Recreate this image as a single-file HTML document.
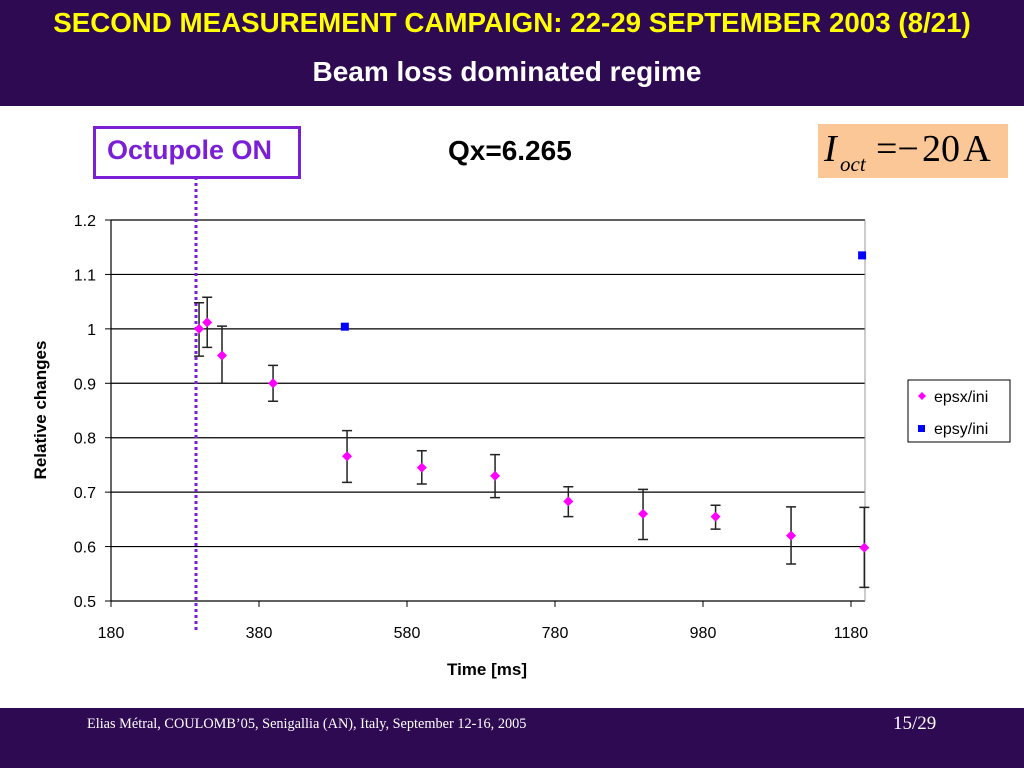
<!DOCTYPE html>
<html><head><meta charset="utf-8"><style>
body{margin:0;width:1024px;height:768px;background:#fff;position:relative;overflow:hidden;font-family:"Liberation Sans",sans-serif}
.abs{position:absolute}
</style></head><body>
<div class="abs" style="left:0;top:0;width:1024px;height:106px;background:#2e0a52"></div>
<div class="abs" style="left:0;top:7px;width:1024px;text-align:center;color:#ffff00;font-weight:bold;font-size:28px;transform:scaleX(0.99)">SECOND MEASUREMENT CAMPAIGN: 22-29 SEPTEMBER 2003 (8/21)</div>
<div class="abs" style="left:0;top:56px;width:1014px;text-align:center;color:#fff;font-weight:bold;font-size:28px">Beam loss dominated regime</div>
<div class="abs" style="left:93px;top:126px;width:202px;height:47px;border:3px solid #7a1fd6;color:#7a1fd6;font-weight:bold;font-size:27px;box-sizing:content-box"><div style="padding:6px 0 0 11px">Octupole ON</div></div>
<div class="abs" style="left:448px;top:135px;font-weight:bold;font-size:28px">Qx=6.265</div>
<div class="abs" style="left:818px;top:124px;width:190px;height:54px;background:#fcc796;font-family:'Liberation Serif',serif;font-size:38px;color:#000"><span style="position:absolute;left:6px;top:3px;font-style:italic">I</span><span style="position:absolute;left:22px;top:28px;font-style:italic;font-size:21px">oct</span><span style="position:absolute;left:58px;top:3px;white-space:nowrap">=&#8722;&#8202;20&#8202;A</span></div>
<svg class="abs" style="left:0;top:0" width="1024" height="768" id="chart"></svg>
<div class="abs" style="left:0;top:708px;width:1024px;height:60px;background:#2e0a52"></div>
<div class="abs" style="left:87px;top:716px;color:#fff;font-family:'Liberation Serif',serif;font-size:14.3px;white-space:nowrap">Elias Métral, COULOMB’05, Senigallia (AN), Italy, September 12-16, 2005</div>
<div class="abs" style="left:893px;top:713px;color:#fff;font-family:'Liberation Serif',serif;font-size:19px">15/29</div>
<script>
const xTicks=[180,380,580,780,980,1180];
const yTicks=[0.5,0.6,0.7,0.8,0.9,1,1.1,1.2];
const yTickLabels=["0.5","0.6","0.7","0.8","0.9","1","1.1","1.2"];
const epsxT=[299,310,330,399,499,600,699,798,899,997,1099,1198];
const epsxV=[1.0,1.012,0.951,0.9,0.766,0.745,0.73,0.683,0.66,0.655,0.62,0.598];
const epsxHi=[1.048,1.058,1.005,0.933,0.813,0.776,0.769,0.71,0.705,0.676,0.673,0.672];
const epsxLo=[0.95,0.966,0.9,0.867,0.718,0.715,0.69,0.655,0.613,0.632,0.568,0.525];
const epsyT=[496,1195];
const epsyV=[1.004,1.135];
const NS="http://www.w3.org/2000/svg";
const svg=document.getElementById('chart');
const X=v=>111+(v-180)*0.74;
const Y=v=>601-(v-0.5)*(381/0.7);
function mk(t,a,p){const e=document.createElementNS(NS,t);for(const k in a)e.setAttribute(k,a[k]);(p||svg).appendChild(e);return e;}
yTicks.forEach((v,i)=>{
 const g=mk('line',{x1:111,x2:865,y1:Y(v),y2:Y(v),stroke:'#000','stroke-width':1.2});
 
 
 mk('line',{x1:105,x2:111,y1:Y(v),y2:Y(v),stroke:'#000'});
 const t=mk('text',{x:96,y:Y(v)+6,'text-anchor':'end','font-size':16});
 t.textContent=yTickLabels[i];
 
 
});
mk('line',{x1:111,x2:111,y1:220,y2:601,stroke:'#000','stroke-width':1.2});
mk('line',{x1:865,x2:865,y1:220,y2:601,stroke:'#999'});
xTicks.forEach(v=>{
 mk('line',{x1:X(v),x2:X(v),y1:601,y2:607,stroke:'#000'});
 const t=mk('text',{x:X(v),y:638,'text-anchor':'middle','font-size':16});
 t.textContent=v;
 
 
});
const yt=mk('text',{x:0,y:0,transform:'translate(46,410) rotate(-90)','text-anchor':'middle','font-size':17,'font-weight':'bold'});
yt.textContent='Relative changes';


const xt=mk('text',{x:487,y:675,'text-anchor':'middle','font-size':17,'font-weight':'bold'});
xt.textContent='Time [ms]';


const dl=mk('line',{x1:196,x2:196,y1:177,y2:630,stroke:'#7a1fd6','stroke-width':3,'stroke-dasharray':'3,3'});


epsxT.forEach((t,i)=>{
 const x=X(t);
 const eb=mk('path',{d:`M${x},${Y(epsxHi[i])}V${Y(epsxLo[i])}M${x-5},${Y(epsxHi[i])}h10M${x-5},${Y(epsxLo[i])}h10`,stroke:'#222','stroke-width':1.5,fill:'none'});
 
 
 const y=Y(epsxV[i]);
 const p=mk('path',{d:`M${x},${y-5}L${x+5},${y}L${x},${y+5}L${x-5},${y}Z`,fill:'#ff00ff'});
 
 
});
epsyT.forEach((t,i)=>{
 const p=mk('rect',{x:X(t)-4,y:Y(epsyV[i])-4,width:8,height:8,fill:'#0000ff'});
 
 
});
const lg=mk('g',{});


mk('rect',{x:908,y:380,width:102,height:62,fill:'#fff',stroke:'#000'},lg);
mk('path',{d:'M922,392l4,4l-4,4l-4,-4Z',fill:'#ff00ff'},lg);
mk('rect',{x:918,y:425,width:7,height:7,fill:'#0000ff'},lg);
const l1=mk('text',{x:934,y:402,'font-size':16},lg);l1.textContent='epsx/ini';


const l2=mk('text',{x:934,y:434,'font-size':16},lg);l2.textContent='epsy/ini';


</script>
</body></html>
